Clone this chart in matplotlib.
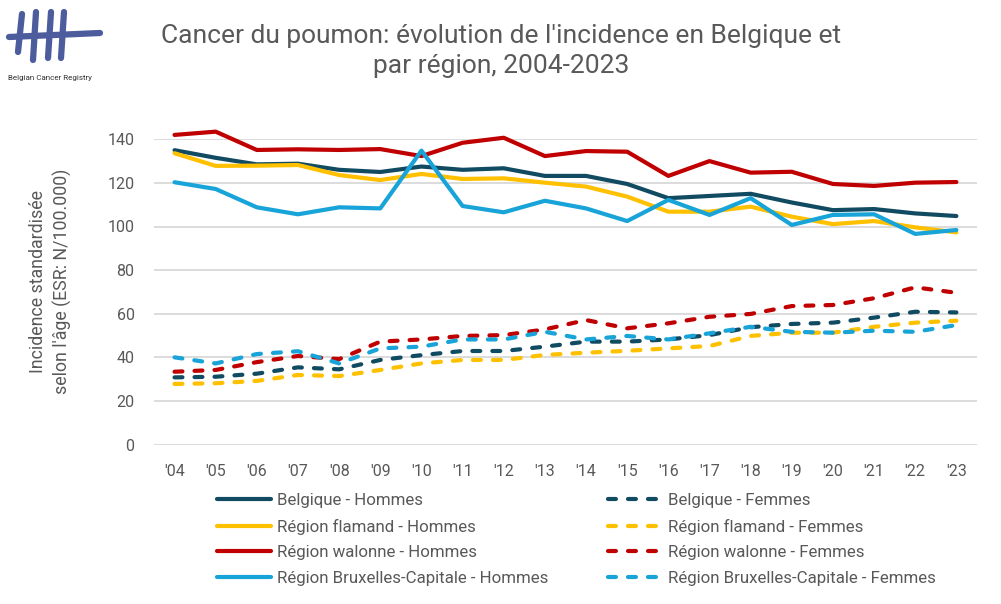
import matplotlib.pyplot as plt
from matplotlib.lines import Line2D

plt.rcParams['font.family'] = ['Roboto', 'DejaVu Sans']

years = ["'04", "'05", "'06", "'07", "'08", "'09", "'10", "'11", "'12", "'13",
         "'14", "'15", "'16", "'17", "'18", "'19", "'20", "'21", "'22", "'23"]

# hommes
belgique_h = [135, 131.5, 128.5, 128.8, 126, 125, 127.5, 126, 126.7, 123.2,
              123.2, 119.5, 113, 114, 115, 111, 107.5, 108, 106, 104.8]
flamand_h = [133.6, 127.8, 127.9, 128.2, 123.6, 121.3, 124.1, 121.8, 122.1, 120.1,
             118.3, 113.7, 106.8, 106.8, 109.1, 104.5, 101.1, 102.5, 99.6, 97.3]
walonne_h = [142, 143.5, 135.1, 135.4, 135.1, 135.5, 132.3, 138.4, 140.7, 132.3,
             134.6, 134.3, 123.2, 130, 124.7, 125.1, 119.5, 118.6, 120.1, 120.4]
bruxelles_h = [120.3, 117.2, 108.8, 105.6, 108.8, 108.3, 134.8, 109.4, 106.5, 111.8,
               108.3, 102.5, 112.2, 105.3, 113, 100.7, 105.3, 105.6, 96.6, 98.4]

# femmes
belgique_f = [30.8, 31.1, 32.5, 35.4, 34.5, 38.8, 41, 42.9, 42.9, 44.9,
              47.2, 47.2, 48.2, 50.2, 53.8, 55.3, 55.9, 58.2, 60.9, 60.6]
flamand_f = [27.8, 28.1, 29.2, 31.9, 31.4, 34.2, 37.2, 38.8, 38.8, 41.1,
             42.1, 43, 44.1, 45.2, 49.8, 51.3, 51.3, 54, 55.9, 56.8]
walonne_f = [33.4, 34.2, 37.8, 40.6, 39.2, 47.2, 48.2, 49.8, 50.2, 52.8,
             57.1, 53.3, 55.6, 58.6, 59.9, 63.5, 64, 67.1, 72.1, 69.6]
bruxelles_f = [40, 37.2, 41.5, 42.8, 37.2, 44.1, 44.9, 48.2, 48.2, 51.7,
               48.2, 49.8, 48.2, 51, 54, 51.7, 51.3, 52.2, 51.7, 54.8]

series = [
    ("Belgique - Hommes", belgique_h, "#114B62", "-"),
    ("Région flamand - Hommes", flamand_h, "#FFC000", "-"),
    ("Région walonne - Hommes", walonne_h, "#C00000", "-"),
    ("Région Bruxelles-Capitale - Hommes", bruxelles_h, "#18A4D8", "-"),
    ("Belgique - Femmes", belgique_f, "#114B62", "--"),
    ("Région flamand - Femmes", flamand_f, "#FFC000", "--"),
    ("Région walonne - Femmes", walonne_f, "#C00000", "--"),
    ("Région Bruxelles-Capitale - Femmes", bruxelles_f, "#18A4D8", "--"),
]

text_col = "#595959"

fig = plt.figure(figsize=(10.01, 6.04), dpi=100)
ax = fig.add_axes([0.1538, 0.264, 0.8222, 0.5054])

x = list(range(len(years)))
for label, vals, col, ls in series:
    if ls == "-":
        ax.plot(x, vals, color=col, lw=3, label=label, solid_capstyle="round",
                solid_joinstyle="round", clip_on=False, zorder=3)
    else:
        ax.plot(x, vals, color=col, lw=3, label=label, dashes=(1.9, 2.9),
                dash_capstyle="round", dash_joinstyle="round", clip_on=False, zorder=3)

ax.set_xlim(-0.5, len(years) - 0.5)
ax.set_ylim(0, 140)
ax.set_yticks(range(0, 141, 20))
ax.set_xticks(x)
ax.set_xticklabels(years)
ax.grid(axis="y", color="#D9D9D9", lw=1.3)
ax.set_axisbelow(True)
for s in ax.spines.values():
    s.set_visible(False)
ax.tick_params(length=0, labelsize=11.5, colors=text_col)
ax.tick_params(axis="x", pad=14)
ax.tick_params(axis="y", pad=14)

ax.set_ylabel("Incidence standardisée\nselon l'âge (ESR: N/100.000)",
              fontsize=12.8, color=text_col, linespacing=1.4)
ax.yaxis.set_label_coords(-0.10, 0.535)

fig.text(0.501, 0.9155, "Cancer du poumon: évolution de l'incidence en Belgique et\npar région, 2004-2023",
         ha="center", va="center", fontsize=19, color=text_col, linespacing=1.3)

leg = ax.legend(ncol=2, loc="upper left", bbox_to_anchor=(0.058, -0.11),
                frameon=False, fontsize=12.2, handlelength=3.2, handletextpad=0.35,
                columnspacing=3.5, labelspacing=0.62, labelcolor=text_col)

# logo
logo_col = "#4D5C9C"
W, H = 1001, 604
def px(xp, yp):
    return xp / W, 1 - yp / H
strokes = [((22, 14), (18, 52)), ((36, 12), (33, 60)), ((51, 12), (48, 58)),
           ((64, 12), (61, 58)), ((9, 37), (100, 33))]
for (x0, y0), (x1, y1) in strokes:
    a, b = px(x0, y0)
    c, d = px(x1, y1)
    fig.add_artist(Line2D([a, c], [b, d], color=logo_col, lw=4.5,
                          transform=fig.transFigure, solid_capstyle="round"))
fig.text(8 / W, 1 - 78 / H, "Belgian Cancer Registry", fontsize=5.8,
         color="#333333", va="center", ha="left")

fig.savefig("out.png", dpi=100)
